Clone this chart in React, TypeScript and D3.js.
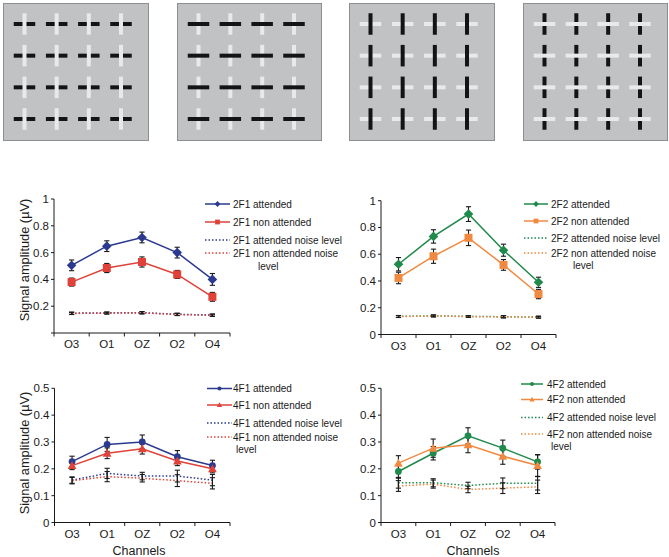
import React from "react";
import * as d3 from "d3";

// ---------- data ----------
const channels = ["O3", "O1", "OZ", "O2", "O4"];

const f2F1Attended = [0.505, 0.648, 0.713, 0.6, 0.4];
const f2F1AttendedErr = [0.04, 0.04, 0.04, 0.04, 0.044];
const f2F1NonAttended = [0.38, 0.485, 0.53, 0.437, 0.27];
const f2F1NonAttendedErr = [0.03, 0.034, 0.038, 0.03, 0.033];
const f2F1AttNoise = [0.148, 0.15, 0.152, 0.14, 0.134];
const f2F1NonAttNoise = [0.146, 0.148, 0.15, 0.138, 0.132];
const f2F1NoiseErr = [0.008, 0.007, 0.008, 0.008, 0.008];

const f2F2Attended = [0.525, 0.733, 0.9, 0.63, 0.39];
const f2F2AttendedErr = [0.05, 0.05, 0.055, 0.045, 0.038];
const f2F2NonAttended = [0.4225, 0.585, 0.7225, 0.52, 0.3025];
const f2F2NonAttendedErr = [0.043, 0.053, 0.058, 0.04, 0.035];
const f2F2AttNoise = [0.135, 0.14, 0.135, 0.133, 0.13];
const f2F2NonAttNoise = [0.134, 0.138, 0.134, 0.132, 0.129];
const f2F2NoiseErr = [0.007, 0.007, 0.006, 0.008, 0.007];

const f4F1Attended = [0.227, 0.291, 0.3, 0.245, 0.212];
const f4F1AttendedErr = [0.02, 0.026, 0.026, 0.023, 0.02];
const f4F1NonAttended = [0.212, 0.258, 0.275, 0.229, 0.2];
const f4F1NonAttendedErr = [0.015, 0.02, 0.02, 0.017, 0.015];
const f4F1AttNoise = [0.158, 0.183, 0.173, 0.173, 0.158];
const f4F1NonAttNoise = [0.156, 0.171, 0.165, 0.156, 0.146];
const f4F1NoiseErr = [0.012, 0.019, 0.014, 0.022, 0.021];

const f4F2Attended = [0.19, 0.258, 0.323, 0.277, 0.226];
const f4F2AttendedErr = [0.025, 0.025, 0.03, 0.03, 0.027];
const f4F2NonAttended = [0.221, 0.277, 0.29, 0.247, 0.212];
const f4F2NonAttendedErr = [0.028, 0.034, 0.03, 0.03, 0.04];
const f4F2AttNoise = [0.148, 0.148, 0.138, 0.146, 0.146];
const f4F2NonAttNoise = [0.136, 0.143, 0.123, 0.128, 0.133];
const f4F2NoiseErr = [0.02, 0.015, 0.012, 0.02, 0.025];

const ticks1 = [0, 0.2, 0.4, 0.6, 0.8, 1];
const ticks05 = [0, 0.1, 0.2, 0.3, 0.4, 0.5];

// stimulus panels: which bar is black, and whether black is drawn on top
const stimulusBlackOrient = ["h", "h", "v", "v"];
const stimulusBlackOnTop = [false, true, true, false];
const gridIdx = [0, 1, 2, 3];

// ---------- style ----------
const FONT = "'Liberation Sans', Arial, Helvetica, sans-serif";
const BLUE = "#2b3a8f";
const RED = "#de4238";
const GREEN = "#1f8a4b";
const ORANGE = "#f08a41";
const INK = "#1a1a1a";

type Marker = "diamond" | "square" | "circle" | "triangle" | "none";
type Series = {
  name: string;
  values: number[];
  errors: number[];
  color: string;
  marker: Marker;
  dotted: boolean;
};

type ChartCfg = {
  x0: number;
  x1: number;
  yBottom: number;
  yTop: number;
  yMax: number;
  ticks: number[];
  showZero: boolean;
  yLabel?: { x: number; y: number };
  xTitle?: { x: number; y: number };
  series: Series[];
  legend: {
    lineX0: number;
    lineX1: number;
    textX: number;
    rows: number[];
    levelX: number;
    levelY: number;
  };
};

function MarkerShape({ kind, cx, cy, color, s }: { kind: Marker; cx: number; cy: number; color: string; s: number }) {
  if (kind === "diamond") {
    const h = s;
    return <path d={`M${cx},${cy - h}L${cx + h},${cy}L${cx},${cy + h}L${cx - h},${cy}Z`} fill={color} />;
  }
  if (kind === "square") {
    return <rect x={cx - s} y={cy - s} width={2 * s} height={2 * s} fill={color} />;
  }
  if (kind === "circle") {
    return <circle cx={cx} cy={cy} r={s} fill={color} />;
  }
  if (kind === "triangle") {
    const h = s * 1.1;
    return <path d={`M${cx},${cy - h}L${cx + s * 1.1},${cy + h * 0.8}L${cx - s * 1.1},${cy + h * 0.8}Z`} fill={color} />;
  }
  return null;
}

function markerSize(kind: Marker) {
  if (kind === "diamond") return 4.8;
  if (kind === "square") return 4;
  if (kind === "circle") return 3.4;
  if (kind === "triangle") return 4;
  return 0;
}

function Chart({ cfg }: { cfg: ChartCfg }) {
  const x = d3.scaleBand<string>().domain(channels).range([cfg.x0, cfg.x1]).padding(0);
  const y = d3.scaleLinear().domain([0, cfg.yMax]).range([cfg.yBottom, cfg.yTop]);
  const cx = (c: string) => (x(c) as number) + x.bandwidth() / 2;
  const line = d3
    .line<number>()
    .x((_, i) => cx(channels[i]))
    .y((d) => y(d));

  const noise = cfg.series.filter((s) => s.dotted);
  const main = cfg.series.filter((s) => !s.dotted);
  const edges = [...channels.map((c) => x(c) as number), cfg.x1];

  const errBars = (s: Series, key: string) =>
    s.values.map((v, i) => {
      const px = cx(channels[i]);
      const yt = y(v + s.errors[i]);
      const yb = y(v - s.errors[i]);
      return (
        <g key={key + i} stroke={INK} strokeWidth={1.1}>
          <line x1={px} x2={px} y1={yt} y2={yb} />
          <line x1={px - 2.6} x2={px + 2.6} y1={yt} y2={yt} />
          <line x1={px - 2.6} x2={px + 2.6} y1={yb} y2={yb} />
        </g>
      );
    });

  const L = cfg.legend;

  return (
    <g>
      {/* axes */}
      <line x1={cfg.x0} x2={cfg.x0} y1={cfg.yBottom} y2={cfg.yTop} stroke={INK} strokeWidth={1} />
      <line x1={cfg.x0} x2={cfg.x1} y1={cfg.yBottom} y2={cfg.yBottom} stroke={INK} strokeWidth={1} />
      {cfg.ticks.map((t) => (
        <g key={"yt" + t}>
          <line x1={cfg.x0 - 3} x2={cfg.x0} y1={y(t)} y2={y(t)} stroke={INK} />
          {(t !== 0 || cfg.showZero) && (
            <text x={cfg.x0 - 5} y={y(t)} dy="0.35em" textAnchor="end" fontSize={11.5} fill={INK}>
              {d3.format("~g")(t)}
            </text>
          )}
        </g>
      ))}
      {edges.map((e, i) => (
        <line key={"xt" + i} x1={e} x2={e} y1={cfg.yBottom} y2={cfg.yBottom + 3.5} stroke={INK} />
      ))}
      {channels.map((c) => (
        <text key={"xl" + c} x={cx(c)} y={cfg.yBottom + 15} textAnchor="middle" fontSize={11.5} fill={INK}>
          {c}
        </text>
      ))}
      {cfg.yLabel && (
        <text
          transform={`translate(${cfg.yLabel.x},${cfg.yLabel.y}) rotate(-90)`}
          textAnchor="middle"
          dy="0.35em"
          fontSize={12.8}
          fill={INK}
        >
          Signal amplitude (µV)
        </text>
      )}
      {cfg.xTitle && (
        <text x={cfg.xTitle.x} y={cfg.xTitle.y} textAnchor="middle" fontSize={12.5} fill={INK}>
          Channels
        </text>
      )}

      {/* noise lines */}
      {noise.map((s) => (
        <path
          key={"nl" + s.name}
          d={line(s.values) || ""}
          fill="none"
          stroke={s.color}
          strokeWidth={1.5}
          strokeDasharray="1.5,2"
        />
      ))}
      {noise.map((s) => errBars(s, "ne" + s.name))}

      {/* main lines */}
      {main.map((s) => (
        <path key={"ml" + s.name} d={line(s.values) || ""} fill="none" stroke={s.color} strokeWidth={1.5} />
      ))}
      {main.map((s) => errBars(s, "me" + s.name))}
      {main.map((s) =>
        s.values.map((v, i) => (
          <MarkerShape
            key={"mk" + s.name + i}
            kind={s.marker}
            cx={cx(channels[i])}
            cy={y(v)}
            color={s.color}
            s={markerSize(s.marker)}
          />
        ))
      )}

      {/* legend */}
      {cfg.series.map((s, i) => {
        const ry = L.rows[i];
        const mid = (L.lineX0 + L.lineX1) / 2;
        const isLast = i === cfg.series.length - 1;
        const label = isLast ? s.name.replace(/ level$/, "") : s.name;
        return (
          <g key={"lg" + s.name}>
            <line
              x1={L.lineX0}
              x2={L.lineX1}
              y1={ry}
              y2={ry}
              stroke={s.color}
              strokeWidth={1.5}
              strokeDasharray={s.dotted ? "1.5,2" : undefined}
            />
            {!s.dotted && (
              <MarkerShape kind={s.marker} cx={mid} cy={ry} color={s.color} s={markerSize(s.marker) * 0.6} />
            )}
            <text x={L.textX} y={ry} dy="0.35em" fontSize={10} fill={INK}>
              {label}
            </text>
            {isLast && (
              <text x={L.levelX} y={L.levelY} dy="0.35em" fontSize={10} fill={INK}>
                level
              </text>
            )}
          </g>
        );
      })}
    </g>
  );
}

function Stimulus({ x0, x1, y0, y1, orient, blackOnTop }: any) {
  const gx = d3.scalePoint<number>().domain(gridIdx).range([x0 + 21.5, x1 - 27]);
  const gy = d3.scalePoint<number>().domain(gridIdx).range([y0 + 21, y1 - 21]);
  const len = 21.5;
  const th = 4;
  const items: React.ReactNode[] = [];
  gridIdx.forEach((r) =>
    gridIdx.forEach((c) => {
      const cx = gx(c) as number;
      const cy = gy(r) as number;
      const hRect = { x: cx - len / 2, y: cy - th / 2, width: len, height: th };
      const vRect = { x: cx - th / 2, y: cy - len / 2, width: th, height: len };
      const black = orient === "h" ? hRect : vRect;
      const white = orient === "h" ? vRect : hRect;
      const b = <rect key="b" {...black} fill="#141414" />;
      const w = <rect key="w" {...white} fill="#e9e9e9" />;
      items.push(<g key={r + "-" + c}>{blackOnTop ? [w, b] : [b, w]}</g>);
    })
  );
  return (
    <g>
      <rect x={x0 + 0.5} y={y0 + 0.5} width={x1 - x0} height={y1 - y0} fill="#c0c2c3" stroke="#8c8e90" strokeWidth={1} />
      {items}
    </g>
  );
}

const stimulusBoxes = [
  [3, 148],
  [177, 321],
  [349, 494],
  [523, 667],
];

export default function App() {
  const charts: ChartCfg[] = [
    {
      x0: 54,
      x1: 230,
      yBottom: 333,
      yTop: 199,
      yMax: 1,
      ticks: ticks1,
      showZero: false,
      yLabel: { x: 25, y: 260 },
      series: [
        { name: "2F1 attended", values: f2F1Attended, errors: f2F1AttendedErr, color: BLUE, marker: "diamond", dotted: false },
        { name: "2F1 non attended", values: f2F1NonAttended, errors: f2F1NonAttendedErr, color: RED, marker: "square", dotted: false },
        { name: "2F1 attended noise level", values: f2F1AttNoise, errors: f2F1NoiseErr, color: BLUE, marker: "none", dotted: true },
        { name: "2F1 non attended noise level", values: f2F1NonAttNoise, errors: f2F1NoiseErr, color: RED, marker: "none", dotted: true },
      ],
      legend: { lineX0: 205, lineX1: 230, textX: 233, rows: [204, 222, 240, 253], levelX: 258, levelY: 266 },
    },
    {
      x0: 381,
      x1: 556,
      yBottom: 334.5,
      yTop: 200.7,
      yMax: 1,
      ticks: ticks1,
      showZero: true,
      series: [
        { name: "2F2 attended", values: f2F2Attended, errors: f2F2AttendedErr, color: GREEN, marker: "diamond", dotted: false },
        { name: "2F2 non attended", values: f2F2NonAttended, errors: f2F2NonAttendedErr, color: ORANGE, marker: "square", dotted: false },
        { name: "2F2 attended noise level", values: f2F2AttNoise, errors: f2F2NoiseErr, color: GREEN, marker: "none", dotted: true },
        { name: "2F2 non attended noise level", values: f2F2NonAttNoise, errors: f2F2NoiseErr, color: ORANGE, marker: "none", dotted: true },
      ],
      legend: { lineX0: 524, lineX1: 548, textX: 551, rows: [204, 221, 238, 253], levelX: 573, levelY: 265 },
    },
    {
      x0: 54.5,
      x1: 230,
      yBottom: 522.5,
      yTop: 388.3,
      yMax: 0.5,
      ticks: ticks05,
      showZero: true,
      yLabel: { x: 25, y: 453 },
      xTitle: { x: 139, y: 555 },
      series: [
        { name: "4F1 attended", values: f4F1Attended, errors: f4F1AttendedErr, color: BLUE, marker: "circle", dotted: false },
        { name: "4F1 non attended", values: f4F1NonAttended, errors: f4F1NonAttendedErr, color: RED, marker: "triangle", dotted: false },
        { name: "4F1 attended noise level", values: f4F1AttNoise, errors: f4F1NoiseErr, color: BLUE, marker: "none", dotted: true },
        { name: "4F1 non attended noise level", values: f4F1NonAttNoise, errors: f4F1NoiseErr, color: RED, marker: "none", dotted: true },
      ],
      legend: { lineX0: 207, lineX1: 232, textX: 233, rows: [388.5, 405, 423, 437], levelX: 236, levelY: 449.5 },
    },
    {
      x0: 381,
      x1: 555,
      yBottom: 522.5,
      yTop: 388.3,
      yMax: 0.5,
      ticks: ticks05,
      showZero: true,
      xTitle: { x: 473, y: 555 },
      series: [
        { name: "4F2 attended", values: f4F2Attended, errors: f4F2AttendedErr, color: GREEN, marker: "circle", dotted: false },
        { name: "4F2 non attended", values: f4F2NonAttended, errors: f4F2NonAttendedErr, color: ORANGE, marker: "triangle", dotted: false },
        { name: "4F2 attended noise level", values: f4F2AttNoise, errors: f4F2NoiseErr, color: GREEN, marker: "none", dotted: true },
        { name: "4F2 non attended noise level", values: f4F2NonAttNoise, errors: f4F2NoiseErr, color: ORANGE, marker: "none", dotted: true },
      ],
      legend: { lineX0: 521, lineX1: 543, textX: 547, rows: [384, 399.5, 417.5, 434], levelX: 551, levelY: 446.5 },
    },
  ];

  return (
    <div style={{ position: "absolute", left: 0, top: 0 }}>
      <svg width={669} height={557} style={{ display: "block", fontFamily: FONT, background: "#fff" }}>
        {stimulusBoxes.map((b, i) => (
          <Stimulus
            key={"st" + i}
            x0={b[0]}
            x1={b[1]}
            y0={3}
            y1={140}
            orient={stimulusBlackOrient[i]}
            blackOnTop={stimulusBlackOnTop[i]}
          />
        ))}
        {charts.map((c, i) => (
          <Chart key={"ch" + i} cfg={c} />
        ))}
      </svg>
    </div>
  );
}
